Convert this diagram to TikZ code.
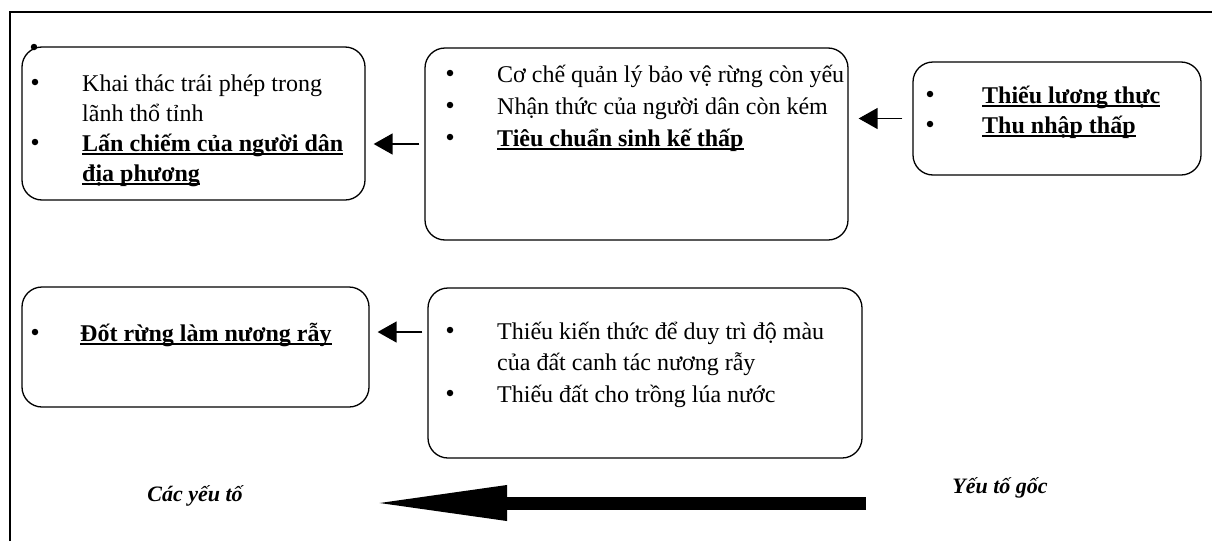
\documentclass[tikz,border=0pt]{standalone}
\usepackage{fontspec}
\setmainfont{Liberation Serif}
\usetikzlibrary{arrows.meta}
\newcommand\ulx[1]{\setbox0\hbox{#1}\rlap{\rule[-3.5pt]{\wd0}{1.3pt}}\box0}
\tikzset{
  box/.style={draw, line width=1.3pt, rounded corners=20pt, inner sep=0pt},
  txt/.style={anchor=base west, inner sep=0pt, font=\fontsize{24}{30}\selectfont},
  lbl/.style={inner sep=0pt, font=\fontsize{22}{26}\selectfont\bfseries\itshape},
  dot/.style={circle, fill, inner sep=0pt, minimum size=6.5pt},
  arr/.style={line width=1.5pt, -{Triangle[length=19pt,width=21pt]}},
  bigarr/.style={line width=13pt, -{Triangle[length=137pt,width=32pt]}},
  frame/.style={line width=1.5pt}
}
\begin{document}
\begin{tikzpicture}[x=1pt,y=-1pt]
\useasboundingbox (0,0) rectangle (1212,541);
% outer frame (top and left only)
\coordinate (f1) at (10,541);
\coordinate (f2) at (10,12);
\coordinate (f3) at (1212,12);
\draw[frame] (f1) -- (f2) -- (f3);
% boxes
\node[box, minimum width=343pt, minimum height=153pt] (A) at (193.5,123.5) {};
\node[box, minimum width=423pt, minimum height=192pt] (B) at (636.5,144) {};
\node[box, minimum width=288pt, minimum height=113pt] (C) at (1057,118.5) {};
\node[box, minimum width=347pt, minimum height=120pt] (D) at (195.5,347) {};
\node[box, minimum width=434pt, minimum height=170pt] (E) at (645,373) {};
% stray bullet
\node[dot] (stray) at (34,47) {};
% box A
\node[dot] (a1) at (35,82) {};
\node[txt] (ta1) at (82,91) {Khai thác trái phép trong};
\node[txt] (ta2) at (82,121) {lãnh thổ tỉnh};
\node[dot] (a2) at (35,142) {};
\node[txt] (ta3) at (82,151) {\bfseries\ulx{Lấn chiếm của người dân}};
\node[txt] (ta4) at (82,181) {\bfseries\ulx{địa phương}};
% box B
\node[dot] (b1) at (450,73) {};
\node[txt] (tb1) at (497,82) {Cơ chế quản lý bảo vệ rừng còn yếu};
\node[dot] (b2) at (450,105) {};
\node[txt] (tb2) at (497,114) {Nhận thức của người dân còn kém};
\node[dot] (b3) at (450,137) {};
\node[txt] (tb3) at (497,146) {\bfseries\ulx{Tiêu chuẩn sinh kế thấp}};
% box C
\node[dot] (c1) at (930,94) {};
\node[txt] (tc1) at (982,103) {\bfseries\ulx{Thiếu lương thực}};
\node[dot] (c2) at (930,124) {};
\node[txt] (tc2) at (982,133) {\bfseries\ulx{Thu nhập thấp}};
% box D
\node[dot] (d1) at (35,332) {};
\node[txt] (td1) at (80,341) {\bfseries\ulx{Đốt rừng làm nương rẫy}};
% box E
\node[dot] (e1) at (450,330) {};
\node[txt] (te1) at (497,339) {Thiếu kiến thức để duy trì độ màu};
\node[txt] (te2) at (497,370) {của đất canh tác nương rẫy};
\node[dot] (e2) at (450,393) {};
\node[txt] (te3) at (497,402) {Thiếu đất cho trồng lúa nước};
% connectors
\draw[arr, shorten <=10pt, shorten >=10pt] (C.west) -- (C.west -| B.east);
\draw[arr, shorten <=5pt, shorten >=8pt] (B.west) -- (B.west -| A.east);
\coordinate (ED) at ([yshift=15pt]D.east);
\draw[arr, shorten <=5pt, shorten >=8pt] (E.west |- ED) -- (ED);
% labels
\node[lbl] (L1) at (195,496) {Các yếu tố};
\node[lbl] (L2) at (1000,488) {Yếu tố gốc};
% big arrow
\coordinate (bigS) at (866,503);
\coordinate (bigE) at (370,503);
\draw[bigarr] (bigS) -- (bigE);
\end{tikzpicture}
\end{document}
